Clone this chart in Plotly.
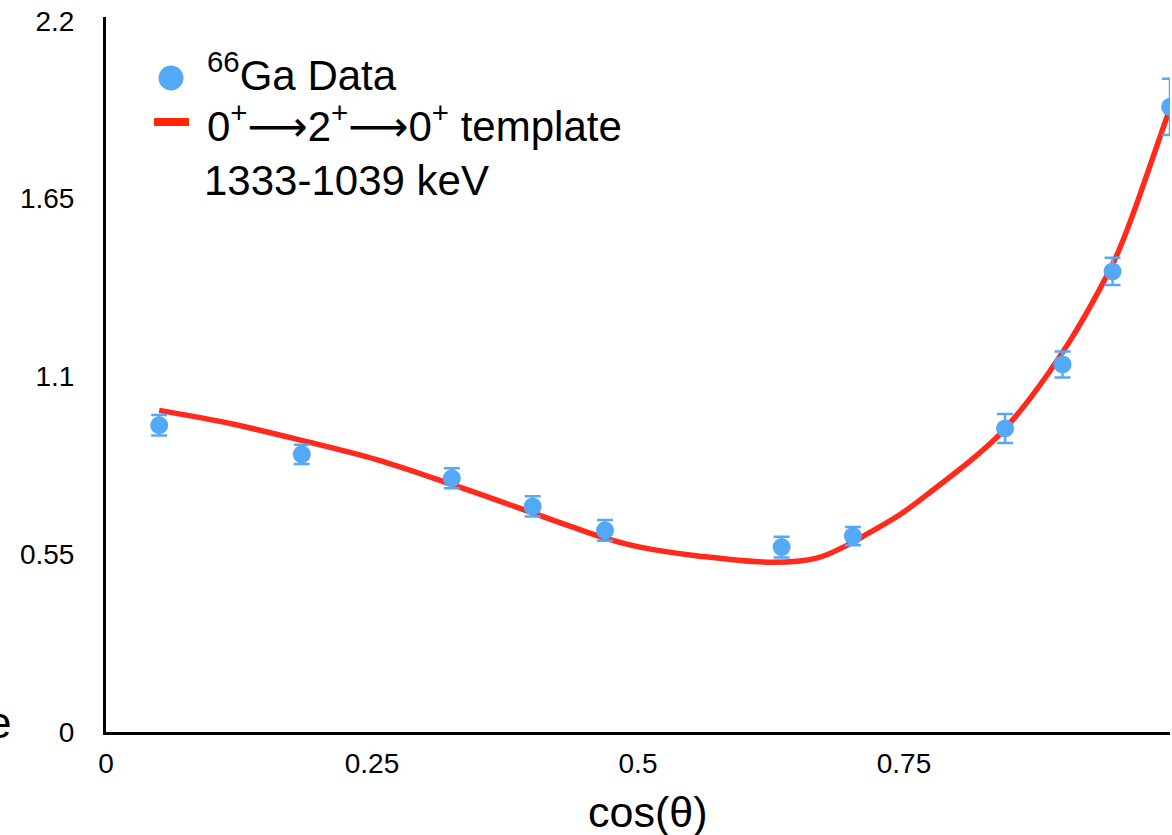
import plotly.graph_objects as go

# ---- data ----
cos_theta = [0.05, 0.184, 0.325, 0.401, 0.469, 0.635, 0.702, 0.845, 0.899, 0.946, 1.0]
ratio = [0.949, 0.859, 0.785, 0.698, 0.624, 0.572, 0.606, 0.939, 1.137, 1.425, 1.934]
ratio_err = [0.032, 0.030, 0.031, 0.031, 0.032, 0.032, 0.028, 0.045, 0.040, 0.042, 0.087]

template_x = [0.05, 0.12, 0.184, 0.255, 0.325, 0.401, 0.436, 0.469, 0.502, 0.558,
              0.627, 0.668, 0.693, 0.715, 0.746, 0.777, 0.809, 0.840, 0.868, 0.906,
              0.934, 0.95, 0.965, 0.98, 1.0]
template_y = [0.995, 0.952, 0.902, 0.842, 0.766, 0.678, 0.637, 0.600, 0.572, 0.544,
              0.525, 0.538, 0.572, 0.612, 0.672, 0.748, 0.830, 0.921, 1.030, 1.210,
              1.370, 1.475, 1.600, 1.740, 1.930]

x_ticks = [0, 0.25, 0.5, 0.75, 1]
x_tick_labels = ["0", "0.25", "0.5", "0.75", "1"]
y_ticks = [0, 0.55, 1.1, 1.65, 2.2]
y_tick_labels = ["0", "0.55", "1.1", "1.65", "2.2"]

BLUE = "#54A9F7"
RED = "#FF2A1C"
FONT = "Liberation Sans, Arial, Helvetica, sans-serif"

W, H = 1172, 835
ML, MR, MT, MB = 106, 2, 17, 103
PW, PH = W - ML - MR, H - MT - MB


def px(x):
    return (x - ML) / PW


def py(y):
    return (H - MB - y) / PH


fig = go.Figure()
fig.add_trace(go.Scatter(
    x=template_x, y=template_y, mode="lines",
    line=dict(color=RED, width=5.5, shape="spline", smoothing=1.0),
    showlegend=False, hoverinfo="skip",
))
fig.add_trace(go.Scatter(
    x=cos_theta, y=ratio, mode="markers",
    marker=dict(color=BLUE, size=18),
    error_y=dict(type="data", array=ratio_err, color=BLUE, thickness=2.5, width=8),
    showlegend=False,
))

# legend drawn by hand
fig.add_shape(type="circle", xref="paper", yref="paper",
              x0=px(158.5), x1=px(183.5), y0=py(90.5), y1=py(65.5),
              fillcolor=BLUE, line=dict(width=0))
fig.add_shape(type="rect", xref="paper", yref="paper",
              x0=px(154), x1=px(189), y0=py(126), y1=py(118),
              fillcolor="#FF2600", line=dict(width=0))

ARROW = "<span style=\"font-family:'DejaVu Sans'\">\u27f6</span>"
legend_texts = [
    ("<sup>66</sup>Ga Data", 205, 72),
    (f"0<sup>+</sup>{ARROW}2<sup>+</sup>{ARROW}0<sup>+</sup> template", 205, 124),
    ("1333-1039 keV", 202, 180),
]
for txt, xx, yy in legend_texts:
    fig.add_annotation(text=txt, xref="paper", yref="paper", x=px(xx), y=py(yy),
                       xanchor="left", yanchor="middle", showarrow=False,
                       font=dict(size=42, color="black", family=FONT))

fig.add_annotation(text="cos(\u03b8)", xref="paper", yref="paper",
                   x=px(647), y=py(812), xanchor="center", yanchor="middle",
                   showarrow=False, font=dict(size=43, color="black", family=FONT))
fig.add_annotation(text="e", xref="paper", yref="paper",
                   x=px(13), y=py(722), xanchor="right", yanchor="middle",
                   showarrow=False, font=dict(size=44, color="black", family=FONT))

fig.update_layout(
    width=W, height=H,
    margin=dict(l=ML, r=MR, t=MT, b=MB, pad=0),
    plot_bgcolor="white", paper_bgcolor="white",
    font=dict(family=FONT, color="black"),
    xaxis=dict(range=[0, 1], tickvals=x_ticks, ticktext=x_tick_labels,
               showgrid=False, zeroline=False, showline=True, linecolor="black",
               linewidth=3, ticks="", ticklabelstandoff=4,
               tickfont=dict(size=28, family=FONT)),
    yaxis=dict(range=[0, 2.212], tickvals=y_ticks, ticktext=y_tick_labels,
               showgrid=False, zeroline=False, showline=True, linecolor="black",
               linewidth=3, ticks="", ticklabelstandoff=23,
               tickfont=dict(size=28, family=FONT)),
)

fig.write_html("out.html", config={"displayModeBar": False},
               post_script="document.body.style.margin='0';")
